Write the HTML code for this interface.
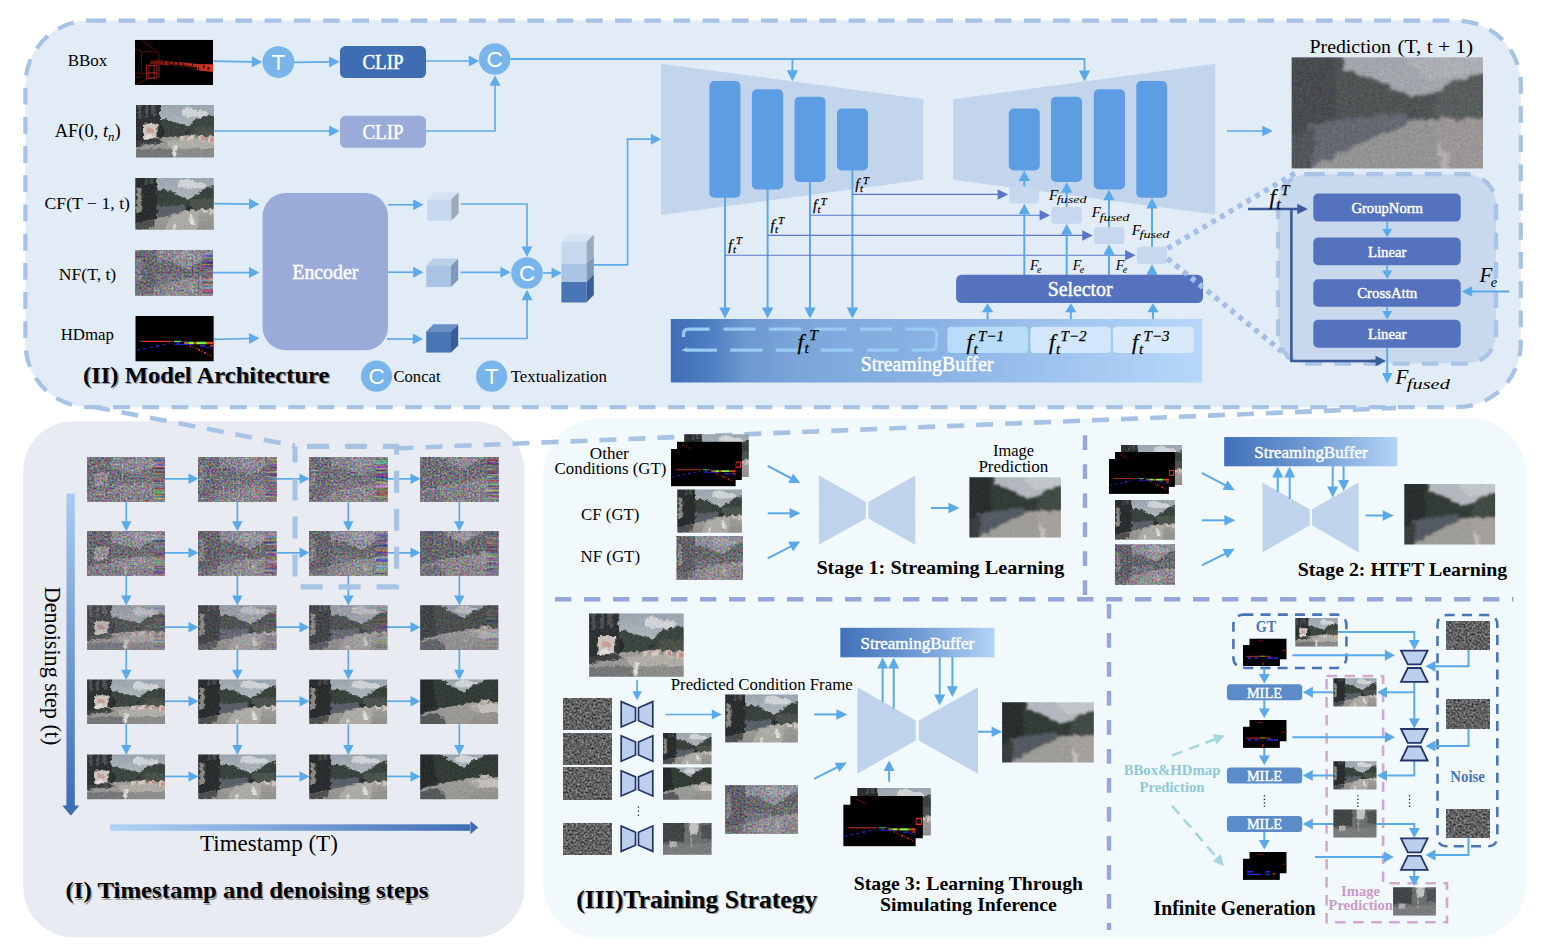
<!DOCTYPE html>
<html><head><meta charset="utf-8"><title>Figure</title>
<style>html,body{margin:0;padding:0;background:#fff}svg{display:block}text{white-space:pre}</style></head>
<body>
<svg width="1551" height="951" viewBox="0 0 1551 951">

<defs>
  <linearGradient id="gbuf" x1="0" x2="1" y1="0" y2="0">
    <stop offset="0" stop-color="#3f6eb6"/><stop offset="0.06" stop-color="#4a7abf"/><stop offset="0.14" stop-color="#6b98d0"/><stop offset="0.23" stop-color="#7ba5d9"/><stop offset="0.52" stop-color="#8cb4e6"/><stop offset="0.8" stop-color="#a6c9f2"/><stop offset="1" stop-color="#b7d7f9"/>
  </linearGradient>
  <linearGradient id="gbuf2" x1="0" x2="1" y1="0" y2="0">
    <stop offset="0" stop-color="#4171b8"/><stop offset="0.5" stop-color="#6f9ad3"/><stop offset="1" stop-color="#b4d4f7"/>
  </linearGradient>
  <linearGradient id="gden" x1="0" x2="0" y1="0" y2="1">
    <stop offset="0" stop-color="#a9cbf3"/><stop offset="1" stop-color="#3f6eb6"/>
  </linearGradient>
  <linearGradient id="gts" x1="0" x2="1" y1="0" y2="0">
    <stop offset="0" stop-color="#b3d4f8"/><stop offset="1" stop-color="#3f6eb6"/>
  </linearGradient>
  <linearGradient id="gsky" x1="0" x2="0" y1="0" y2="1">
    <stop offset="0" stop-color="#9aa6b2"/><stop offset="1" stop-color="#c9cdd0"/>
  </linearGradient>
  <linearGradient id="groad" x1="0" x2="0" y1="0" y2="1">
    <stop offset="0" stop-color="#a9a7a1"/><stop offset="1" stop-color="#8d8c8a"/>
  </linearGradient>
  <filter id="blur0" x="-10%" y="-10%" width="120%" height="120%" color-interpolation-filters="sRGB">
    <feTurbulence type="fractalNoise" baseFrequency="0.22" numOctaves="3" seed="4" result="t"/>
    <feDisplacementMap in="SourceGraphic" in2="t" scale="5" xChannelSelector="R" yChannelSelector="G" result="d"/>
    <feGaussianBlur in="d" stdDeviation="0.55"/>
  </filter>
  <filter id="blur1" x="-10%" y="-10%" width="120%" height="120%" color-interpolation-filters="sRGB">
    <feTurbulence type="fractalNoise" baseFrequency="0.16" numOctaves="3" seed="8" result="t"/>
    <feDisplacementMap in="SourceGraphic" in2="t" scale="6" xChannelSelector="R" yChannelSelector="G" result="d"/>
    <feGaussianBlur in="d" stdDeviation="0.9"/>
  </filter>
  <filter id="blur2" x="-10%" y="-10%" width="120%" height="120%"><feGaussianBlur stdDeviation="1.5"/></filter>
  <filter id="cnoise" x="0" y="0" width="100%" height="100%" color-interpolation-filters="sRGB">
    <feTurbulence type="fractalNoise" baseFrequency="0.5" numOctaves="2" seed="3"/>
    <feColorMatrix type="matrix" values="1.1 0 0 0 -0.04  0 1.1 0 0 -0.06  0 0 1.1 0 -0.015  0 0 0 0 1"/>
  </filter>
  <filter id="cnoise2" x="0" y="0" width="100%" height="100%" color-interpolation-filters="sRGB">
    <feTurbulence type="fractalNoise" baseFrequency="0.52" numOctaves="2" seed="11"/>
    <feColorMatrix type="matrix" values="1.1 0 0 0 -0.04  0 1.1 0 0 -0.06  0 0 1.1 0 -0.015  0 0 0 0 1"/>
  </filter>
  <filter id="streak" x="0" y="0" width="100%" height="100%" color-interpolation-filters="sRGB">
    <feTurbulence type="fractalNoise" baseFrequency="0.03 0.5" numOctaves="2" seed="5"/>
    <feColorMatrix type="matrix" values="2.4 0 0 0 -0.75  0 2.4 0 0 -0.85  0 0 2.4 0 -0.7  0 0 0 0 1"/>
  </filter>
  <filter id="grain" x="0" y="0" width="100%" height="100%" color-interpolation-filters="sRGB">
    <feTurbulence type="fractalNoise" baseFrequency="0.5" numOctaves="2" seed="9"/>
    <feColorMatrix type="matrix" values="1.3 0 0 0 -0.25  1.3 0 0 0 -0.25  1.3 0 0 0 -0.25  0 0 0 0 1"/>
  </filter>
  <filter id="gnoisef" x="0" y="0" width="100%" height="100%" color-interpolation-filters="sRGB">
    <feTurbulence type="fractalNoise" baseFrequency="0.5" numOctaves="2" seed="7"/>
    <feColorMatrix type="matrix" values="0.78 0 0 0 -0.01  0.78 0 0 0 -0.01  0.78 0 0 0 -0.01  0 0 0 0 1"/>
  </filter>

  <!-- road photo with billboard (AF) -->
  <symbol id="roadA" viewBox="0 0 78 52" preserveAspectRatio="none">
    <g filter="url(#blur0)">
      <rect x="-6" y="-6" width="90" height="44" fill="url(#gsky)"/>
      <path d="M46 4 q5 -4 11 0 q4 3 9 1 q4 1 6 3 l-2 3 q-12 3 -24 0z" fill="#e3e6e8" opacity=".85"/>
      <path d="M22 16 q3 -3 6 -1 q3 -2 6 1 q4 -1 7 2 q5 2 8 2 q4 0 7 -2 q3 -4 7 -4 q3 -4 7 -3 q3 -2 8 -1 L84 32 L22 34Z" fill="#39433c"/>
      <path d="M58 22 q8 -2 12 0 l14 1 l0 8 l-26 0z" fill="#4a5148"/>
      <path d="M-6 -6 L24 -6 L24 36 L-6 38Z" fill="#2a2e2f"/>
      <path d="M2 -2 l3 0 l0 16 l-3 0z M9 -2 l3 0 l0 15 l-3 0z M16 -2 l3 0 l0 14 l-3 0z" fill="#4b5052"/>
      <rect x="24" y="20" width="4" height="16" fill="#262a2b"/>
      <rect x="7" y="18.5" width="14.5" height="15" fill="#d6cec8"/>
      <rect x="11" y="23" width="7" height="4.5" fill="#d3a49a"/>
      <rect x="9" y="30" width="11" height="2.5" fill="#efe9e4"/>
      <path d="M-6 40 L24 33 L50 30 L84 31 L84 60 L-6 60Z" fill="url(#groad)"/>
      <path d="M-6 36 L24 34 L28 37 L-6 42Z" fill="#3a3f3d"/>
      <path d="M44 31 l5 0 l0 4 l-5 1z M52 31 l6 0 l0 4 l-6 0z M62 31 l7 0 l0 5 l-7 0z M72 32 l8 0 l0 6 l-8 -1z" fill="#e0cfc8"/>
      <path d="M46 32 l3 0 l0 2 l-3 0z M64 32 l4 0 l0 3 l-4 0z M74 33 l4 0 l0 3 l-4 0z" fill="#d78f80"/>
      <path d="M30 36 L60 34 L84 38 L84 44 L34 43Z" fill="#bdbab3" opacity=".8"/>
      <path d="M-6 44 L36 43.5 L36 60 L-6 60Z" fill="#77787a"/>
      <path d="M36 44 L84 44 L84 60 L36 60Z" fill="#8f8f8d"/>
      <path d="M38 40 l3 0 l-1 12 l-4 0z" fill="#e8e6e0"/>
      <rect x="49" y="26" width="3.5" height="3" fill="#2b2f30"/>
    </g>
    <rect width="78" height="52" filter="url(#grain)" opacity=".09"/>
  </symbol>
  <!-- road photo (CF) -->
  <symbol id="roadB" viewBox="0 0 78 52" preserveAspectRatio="none">
    <g filter="url(#blur0)">
      <rect x="-6" y="-6" width="90" height="44" fill="url(#gsky)"/>
      <path d="M44 3 q6 -4 13 0 q5 3 10 1 l4 5 q-14 4 -28 0z" fill="#e3e6e8" opacity=".85"/>
      <path d="M20 13 q3 -3 6 -1 q3 -1 5 1 q3 -2 6 1 q3 0 4 3 q4 1 7 3 q4 1 7 0 q3 -3 6 -3 q2 -4 6 -5 q3 -4 6 -3 l5 -1 L84 30 L20 36Z" fill="#353f39"/>
      <path d="M54 22 q10 -2 30 0 l0 8 l-30 2z" fill="#49524a"/>
      <path d="M-6 -6 L21 -6 L22 44 L-6 46Z" fill="#25292a"/>
      <path d="M1 10 l5 0 l0 24 l-5 1z" fill="#8f8c88"/>
      <path d="M9 -2 l3 0 l0 9 l-3 0z M15 -2 l3 0 l0 8 l-3 0z" fill="#43484a"/>
      <path d="M22 28 L50 27 L50 36 L22 42Z" fill="#5a606b"/>
      <path d="M-6 47 L22 41 L50 33 L84 31 L84 60 L-6 60Z" fill="url(#groad)"/>
      <path d="M34 40 L52 33 L64 33 L60 60 L26 60Z" fill="#b7b5af" opacity=".85"/>
      <path d="M66 31 l6 0 l0 4 l-6 0z M74 32 l6 0 l0 4 l-6 0z" fill="#d9cbc4"/>
      <path d="M53 37 l3 0 l3 9 l-4 0z" fill="#eceae4"/>
      <path d="M38 46 l3 0 l-1 8 l-4 0z" fill="#dddbd5"/>
      <rect x="52" y="28.5" width="4.5" height="3.5" fill="#23272a"/>
      <path d="M-6 46 L20 42 L18 50 L-6 52Z" fill="#4b4f4e"/>
    </g>
    <rect width="78" height="52" filter="url(#grain)" opacity=".09"/>
  </symbol>
  <!-- road photo curve (col 4) -->
  <symbol id="roadC" viewBox="0 0 78 52" preserveAspectRatio="none">
    <g filter="url(#blur0)">
      <rect x="-6" y="-6" width="90" height="44" fill="url(#gsky)"/>
      <path d="M36 2 q6 -3 12 0 q5 2 9 1 l2 5 q-12 3 -24 0z" fill="#e3e6e8" opacity=".85"/>
      <path d="M-6 -6 L16 -6 q4 4 6 8 q4 0 6 4 q4 2 8 6 q4 2 8 2 q4 -2 8 -6 q4 -4 8 -4 q4 -4 8 -4 l12 -2 L84 26 L58 30 L-6 42 Z" fill="#2f3933"/>
      <path d="M-6 -6 L12 -6 L16 32 L-6 42Z" fill="#222627"/>
      <path d="M-6 43 L24 33 L52 27 L84 26 L84 60 L-6 60Z" fill="url(#groad)"/>
      <path d="M46 31 L72 28 L84 31 L84 38 L54 38Z" fill="#d6d0ca" opacity=".85"/>
      <path d="M20 40 L50 30 L60 34 L44 60 L10 60Z" fill="#a09f9b" opacity=".7"/>
      <path d="M-6 43 L18 39 L32 60 L-6 60Z" fill="#55585a"/>
      <path d="M60 24 l8 -1 l0 4 l-8 1z" fill="#c9bdb6"/>
    </g>
    <rect width="78" height="52" filter="url(#grain)" opacity=".09"/>
  </symbol>
  <!-- prediction (dark blurry) -->
  <symbol id="pred" viewBox="0 0 100 60" preserveAspectRatio="none">
    <g filter="url(#blur1)">
      <rect x="-8" y="-8" width="116" height="76" fill="#b9bfc4"/>
      <path d="M50 -8 L108 -8 L108 6 L72 13 Z" fill="#c9ced1"/>
      <path d="M25 -8 L27 7 Q36 9 45 13 Q54 18 62 21 Q70 21 78 18 Q84 12 92 11 L108 9 L108 35 L-8 38 L-8 -8 Z" fill="#303834"/>
      <path d="M76 20 Q84 13 92 12 L108 10 L108 33 L74 33Z" fill="#404943"/>
      <path d="M-8 -8 L22 -8 L24 40 L-8 44 Z" fill="#252a2a"/>
      <path d="M8 36 L58 30 L64 36 L28 53 L8 60 Z" fill="#535a62"/>
      <path d="M6 70 L14 58 L30 50 Q48 40 64 35 L70 33 L108 33 L108 70 Z" fill="#a2a19c"/>
      <path d="M72 33 L108 33 L108 70 L84 70 Z" fill="#b0a6a4" opacity=".7"/>
      <path d="M76 46 l2.2 0 l7 22 l-3.2 0z" fill="#d6d4ce"/>
      <path d="M-8 42 L12 39 L10 70 L-8 70Z" fill="#363c3c"/>
      <rect x="60" y="30" width="5" height="4" fill="#2a2e2e"/>
    </g>
    <rect width="100" height="60" filter="url(#grain)" opacity=".07"/>
  </symbol>
  <!-- grayscale blurry street -->
  <symbol id="grayst" viewBox="0 0 78 45" preserveAspectRatio="none">
    <g filter="url(#blur1)">
      <rect x="-6" y="-6" width="90" height="60" fill="#6e7272"/>
      <path d="M-6 -6 L34 -6 L34 26 L-6 30Z" fill="#3d4141"/>
      <path d="M40 -6 L58 -6 L56 16 L44 18Z" fill="#d2d4d4"/>
      <path d="M60 2 L84 0 L84 24 L62 22Z" fill="#4c5050"/>
      <path d="M-6 32 L84 28 L84 52 L-6 52Z" fill="#7e8181"/>
      <rect x="10" y="26" width="12" height="8" fill="#b9bcbc"/>
      <rect x="44" y="20" width="3" height="14" fill="#9c9f9f"/>
    </g>
    <rect width="78" height="45" filter="url(#grain)" opacity=".14"/>
  </symbol>
  <!-- hdmap -->
  <symbol id="hdmap" viewBox="0 0 78 45" preserveAspectRatio="none">
    <rect width="78" height="45" fill="#000"/>
    <path d="M3 25.1 L6 25.1" stroke="#1a1a70" stroke-width="1"/>
    <path d="M6 25.1 L34.6 25.1" stroke="#e23a1c" stroke-width="1"/>
    <path d="M34.6 25.1 L37.5 25.1" stroke="#8a2a70" stroke-width="1"/>
    <path d="M38.3 25.1 L46 25.1" stroke="#66e83a" stroke-width="1"/>
    <path d="M46 25.3 L53 25.3" stroke="#2a2ad0" stroke-width="0.8"/>
    <g stroke-width="2.3">
      <path d="M48.4 26.7 L50.4 26.7" stroke="#ee3a1e"/><path d="M50.4 26.7 L53.3 26.7" stroke="#5a9a3a"/>
      <path d="M53.3 26.7 L58.2 26.7" stroke="#86f53c"/><path d="M58.4 26.7 L60.2 26.7" stroke="#ee3a1e"/>
      <path d="M60.5 26.7 L70.2 26.7" stroke="#86f53c"/><path d="M70.2 26.7 L72.2 26.7" stroke="#8a8a30"/>
      <path d="M72.2 26.7 L78 26.7" stroke="#ee3a1e"/>
    </g>
    <g fill="#2b2bf0">
      <rect x="41" y="25.8" width="2.6" height="2"/><rect x="33.6" y="25.6" width="1" height="1.8"/>
      <rect x="38.6" y="27.8" width="19" height="0.8"/>
      <rect x="26.8" y="27.7" width="2.9" height="0.8"/><rect x="20.8" y="28.7" width="2.6" height="1.7"/>
      <rect x="14.2" y="30.6" width="3.2" height="0.9"/><rect x="7.9" y="31.6" width="2.8" height="0.9"/>
      <rect x="2.7" y="32.7" width="1.4" height="1.8"/>
      <rect x="64.2" y="29" width="5.8" height="1.4"/><rect x="70.2" y="30.8" width="4.6" height="0.7"/><rect x="75.4" y="31.5" width="2.6" height="0.8"/>
    </g>
    <g fill="#d8341c">
      <rect x="74.3" y="28.7" width="3.4" height="1.7"/>
      <rect x="54.2" y="28.6" width="1.1" height="1.9"/><rect x="57.3" y="30.5" width="1.1" height="1"/><rect x="60.2" y="31.5" width="1.1" height="1"/>
      <rect x="62.3" y="32.5" width="2" height="1.9"/><rect x="65.5" y="34.4" width="1.6" height="1"/><rect x="68.3" y="35.5" width="2" height="1.8"/>
      <rect x="71.5" y="37.3" width="1.2" height="1"/><rect x="74" y="38.4" width="1.1" height="1"/><rect x="77.2" y="39.4" width="0.8" height="1.6"/>
    </g>
  </symbol>
  <!-- bbox -->
  <linearGradient id="gbb" x1="0" x2="1" y1="0" y2="0"><stop offset="0" stop-color="#5a100a"/><stop offset="0.45" stop-color="#a3261a"/><stop offset="1" stop-color="#d63624"/></linearGradient>
  <symbol id="bbox" viewBox="0 0 78 45" preserveAspectRatio="none">
    <rect width="78" height="45" fill="#000"/>
    <g stroke="#6e150e" fill="none" stroke-width="0.8">
      <path d="M6.6 12 L23.8 12 L23.8 20 M6.6 12 L6.6 32 M7.5 0.6 L21.2 10.8 M0 9 L6.6 11.5 M0 33.2 L22 33.2 M0 38 L6 36.5 M1 44.5 L14 38"/>
    </g>
    <g stroke="#a3261a" fill="none" stroke-width="0.9">
      <rect x="11.5" y="25.6" width="10.4" height="12.6"/><rect x="14" y="25.6" width="5" height="12.6"/>
      <path d="M11.5 33 L22 33 M15 21.5 L24 21.5 L24 38"/>
    </g>
    <path d="M15 21 L24 20.2 L34 21.6 L50 22.6 L62 24 L78 24.4 L78 32 L62 30.2 L50 27.4 L34 25.8 L24 24.6 L15 24.4Z" fill="url(#gbb)"/>
    <g fill="#000" opacity=".75">
      <rect x="28" y="21" width="0.9" height="4.5"/><rect x="33.5" y="21.5" width="0.9" height="4.5"/><rect x="38" y="22" width="1.2" height="5"/><rect x="42.5" y="22" width="1.6" height="5.2"/>
      <rect x="47.5" y="22.5" width="1" height="5"/><rect x="52" y="26" width="2.6" height="1.8"/><rect x="57" y="23.4" width="0.9" height="2.6"/><rect x="63" y="27.5" width="0.9" height="2.6"/>
      <rect x="68" y="25.6" width="1.6" height="3"/><rect x="72.4" y="27" width="2" height="3"/>
      <path d="M34 24.4 L50 25.6 L62 27.4 L62 30.4 L50 27.6 L34 26Z"/>
    </g>
  </symbol>
  <!-- plain black with little red (middle layer of stacks) -->
  <symbol id="blk" viewBox="0 0 78 45" preserveAspectRatio="none">
    <rect width="78" height="45" fill="#000"/>
    <path d="M6 3 L18 9" stroke="#a81c14" stroke-width="0.7"/>
    <rect x="70.5" y="24" width="6" height="6" fill="none" stroke="#e03024" stroke-width="1.4"/>
  </symbol>
  <!-- small dark cond maps for infinite generation -->
  <symbol id="cmapA" viewBox="0 0 37 21" preserveAspectRatio="none">
    <rect width="37" height="21" fill="#000"/>
    <path d="M3 11.3 L28 11.3" stroke="#d92a1c" stroke-width="0.9"/>
    <path d="M17 11.3 L22 11.3" stroke="#2fb23a" stroke-width="0.9"/>
    <path d="M5 13 l3 0 M12 13 l3 0 M24 13 l6 0 M31 13.3 l4 0" stroke="#2430ee" stroke-width="1.5"/>
    <path d="M20 17.5 l0 2.5" stroke="#d92a1c" stroke-width="1.2"/>
  </symbol>
  <symbol id="cmapB" viewBox="0 0 37 21" preserveAspectRatio="none">
    <rect width="37" height="21" fill="#000"/>
    <path d="M8 2.5 L14 2.5 M32 12 L37 12" stroke="#8a1710" stroke-width="0.8"/>
  </symbol>
  <symbol id="cmapC" viewBox="0 0 37 21" preserveAspectRatio="none">
    <rect width="37" height="21" fill="#000"/>
    <path d="M4 13 l6 0 M23 13 l4 0 M4 15.5 l14 0 M22 15.5 l5 0" stroke="#2430ee" stroke-width="1.3"/>
    <path d="M30 15 l2 0" stroke="#e8261a" stroke-width="1.6"/>
  </symbol>
</defs>
<rect width="1551" height="951" fill="#fff"/>
<rect x="23.2" y="421.2" width="501.3" height="516" rx="50" fill="#e8ecf2" />
<rect x="543.2" y="418.8" width="983.4" height="519.4" rx="56" fill="#f2f9fc" />
<rect x="25.4" y="20.6" width="1495.4" height="386.6" rx="64" fill="#e2ecf7" stroke="#a6c2e5" stroke-width="4.2" stroke-dasharray="16.8 12.4"/>
<path d="M93 406.8 L295 445.8" stroke="#a6c2e5" stroke-width="4.6" stroke-dasharray="17 12" fill="none"/>
<path d="M396.6 448.4 L1396 408" stroke="#a6c2e5" stroke-width="4.6" stroke-dasharray="17 12" fill="none"/>
<text x="87.5" y="66" font-family="Liberation Serif" font-size="17" font-weight="normal" fill="#000" text-anchor="middle" textLength="39.7" lengthAdjust="spacingAndGlyphs"  >BBox</text>
<text x="54.7" y="137" font-family="Liberation Serif" font-size="18" fill="#000" textLength="66" lengthAdjust="spacingAndGlyphs">AF(0, <tspan font-style="italic">t</tspan><tspan font-style="italic" font-size="12.5" dy="3.5">n</tspan><tspan dy="-3.5">)</tspan></text>
<text x="44.5" y="208.7" font-family="Liberation Serif" font-size="17.5" font-weight="normal" fill="#000" text-anchor="start" textLength="85.5" lengthAdjust="spacingAndGlyphs"  >CF(T − 1, t)</text>
<text x="58.8" y="279.5" font-family="Liberation Serif" font-size="17.5" font-weight="normal" fill="#000" text-anchor="start" textLength="57.4" lengthAdjust="spacingAndGlyphs"  >NF(T, t)</text>
<text x="60.7" y="340.4" font-family="Liberation Serif" font-size="17" font-weight="normal" fill="#000" text-anchor="start" textLength="53.3" lengthAdjust="spacingAndGlyphs"  >HDmap</text>
<use href="#bbox" x="135" y="39.8" width="78" height="45.2" />
<use href="#roadA" x="136" y="105" width="78" height="52.4" />
<use href="#roadB" x="135.3" y="178" width="78.5" height="51.7" />
<use href="#roadB" x="135.3" y="250.2" width="77.7" height="45.4" />
<rect x="135.3" y="250.2" width="77.7" height="45.4" filter="url(#cnoise)" opacity="0.72"/>
<rect x="202.9" y="252.2" width="10.1" height="41.4" filter="url(#streak)" opacity="0.4"/>
<use href="#hdmap" x="135.3" y="316" width="78.5" height="45.5" />
<path d="M213 61.2 L252.8 61.85" fill="none" stroke="#5fabe9" stroke-width="1.7"/>
<polygon points="262.3,62 251.71,67.33 251.89,56.33" fill="#5fabe9"/>
<path d="M294 62.4 L330.1 61.92" fill="none" stroke="#5fabe9" stroke-width="1.7"/>
<polygon points="339.6,61.8 329.17,67.44 329.03,56.44" fill="#5fabe9"/>
<path d="M426 61 L469.8 61" fill="none" stroke="#5fabe9" stroke-width="1.7"/>
<polygon points="479.3,61 468.8,66.5 468.8,55.5" fill="#5fabe9"/>
<path d="M214 131 L330.1 131" fill="none" stroke="#5fabe9" stroke-width="1.7"/>
<polygon points="339.6,131 329.1,136.5 329.1,125.5" fill="#5fabe9"/>
<path d="M426 131 L495 131 L495 84.7" fill="none" stroke="#5fabe9" stroke-width="1.7"/>
<polygon points="495,75.2 500.5,85.7 489.5,85.7" fill="#5fabe9"/>
<circle cx="278.4" cy="62.1" r="15.9" fill="#79b4ea"/>
<text x="278.4" y="70.2" font-family="Liberation Sans" font-size="22.5" font-weight="normal" fill="#fff" text-anchor="middle"  >T</text>
<rect x="340" y="46" width="86" height="32" rx="5.5" fill="#3e6db4" />
<text x="383" y="69.3" font-family="Liberation Serif" font-size="20" font-weight="normal" fill="#fff" text-anchor="middle" textLength="41" lengthAdjust="spacingAndGlyphs"   stroke="#fff" stroke-width="0.45">CLIP</text>
<rect x="340" y="115.8" width="86" height="32" rx="5.5" fill="#9aabda" />
<text x="383" y="139.2" font-family="Liberation Serif" font-size="20" font-weight="normal" fill="#fff" text-anchor="middle" textLength="41" lengthAdjust="spacingAndGlyphs"   stroke="#fff" stroke-width="0.45">CLIP</text>
<circle cx="494.7" cy="59" r="15.8" fill="#79b4ea"/>
<text x="494.7" y="66.8" font-family="Liberation Sans" font-size="22.5" font-weight="normal" fill="#fff" text-anchor="middle"  >C</text>
<path d="M213.8 203.6 L250 204.08" fill="none" stroke="#5fabe9" stroke-width="1.7"/>
<polygon points="259.5,204.2 248.93,209.56 249.07,198.56" fill="#5fabe9"/>
<path d="M213 272.6 L250 272.6" fill="none" stroke="#5fabe9" stroke-width="1.7"/>
<polygon points="259.5,272.6 249,278.1 249,267.1" fill="#5fabe9"/>
<path d="M213.8 339.3 L250 338.51" fill="none" stroke="#5fabe9" stroke-width="1.7"/>
<polygon points="259.5,338.3 249.12,344.03 248.88,333.03" fill="#5fabe9"/>
<rect x="262.6" y="193" width="125.4" height="157.3" rx="23" fill="#9aabda" />
<text x="325.3" y="278.6" font-family="Liberation Serif" font-size="20" font-weight="normal" fill="#fff" text-anchor="middle" textLength="66" lengthAdjust="spacingAndGlyphs"   stroke="#fff" stroke-width="0.45">Encoder</text>
<path d="M388 204.8 L414.1 204.8" fill="none" stroke="#5fabe9" stroke-width="1.7"/>
<polygon points="423.6,204.8 413.1,210.3 413.1,199.3" fill="#5fabe9"/>
<path d="M388 272.2 L414.1 272.2" fill="none" stroke="#5fabe9" stroke-width="1.7"/>
<polygon points="423.6,272.2 413.1,277.7 413.1,266.7" fill="#5fabe9"/>
<path d="M387 339 L413.8 339" fill="none" stroke="#5fabe9" stroke-width="1.7"/>
<polygon points="423.3,339 412.8,344.5 412.8,333.5" fill="#5fabe9"/>
<polygon points="427.2,199.6 434.6,192.2 458.6,192.2 451.2,199.6" fill="#d5e2f2" />
<polygon points="451.2,199.6 458.6,192.2 458.6,213.4 451.2,220.8" fill="#9daabc" />
<rect x="427.2" y="199.6" width="24" height="21.2" rx="0" fill="#c6d8ee" />
<polygon points="426.2,265.8 433.4,258.6 458.2,258.6 451,265.8" fill="#bacfea" />
<polygon points="451,265.8 458.2,258.6 458.2,279.8 451,287" fill="#8199b8" />
<rect x="426.2" y="265.8" width="24.8" height="21.2" rx="0" fill="#a9c3e5" />
<polygon points="426.2,331.4 433.4,324.2 458.2,324.2 451,331.4" fill="#6a8fc4" />
<polygon points="451,331.4 458.2,324.2 458.2,345.4 451,352.6" fill="#3a5d96" />
<rect x="426.2" y="331.4" width="24.8" height="21.2" rx="0" fill="#4a76b5" />
<path d="M461 204 L527 204 L527 247.4" fill="none" stroke="#5fabe9" stroke-width="1.7"/>
<polygon points="527,256.9 521.5,246.4 532.5,246.4" fill="#5fabe9"/>
<path d="M460.5 272.3 L501.3 272.3" fill="none" stroke="#5fabe9" stroke-width="1.7"/>
<polygon points="510.8,272.3 500.3,277.8 500.3,266.8" fill="#5fabe9"/>
<path d="M460 338.5 L527 338.5 L527 299.3" fill="none" stroke="#5fabe9" stroke-width="1.7"/>
<polygon points="527,289.8 532.5,300.3 521.5,300.3" fill="#5fabe9"/>
<path d="M543 273 L552.5 273" fill="none" stroke="#5fabe9" stroke-width="1.7"/>
<polygon points="562,273 551.5,278.5 551.5,267.5" fill="#5fabe9"/>
<circle cx="527" cy="273" r="15.8" fill="#79b4ea"/>
<text x="527" y="280.8" font-family="Liberation Sans" font-size="22.5" font-weight="normal" fill="#fff" text-anchor="middle"  >C</text>
<polygon points="561.4,242 568.8,234.6 593.8,234.6 586.4,242" fill="#d5e2f2" />
<polygon points="586.4,242 593.8,234.6 593.8,256.2 586.4,263.6" fill="#9daabc" />
<polygon points="586.4,263.6 593.8,256.2 593.8,274.6 586.4,282" fill="#8199b8" />
<polygon points="586.4,282 593.8,274.6 593.8,295.1 586.4,302.5" fill="#3a5d96" />
<rect x="561.4" y="242" width="25" height="21.6" rx="0" fill="#c6d8ee" />
<rect x="561.4" y="263.6" width="25" height="18.4" rx="0" fill="#a9c3e5" />
<rect x="561.4" y="282" width="25" height="20.5" rx="0" fill="#4a76b5" />
<path d="M594 264.8 L627.6 264.8 L627.6 139.2 L651.8 139.2" fill="none" stroke="#5fabe9" stroke-width="1.7"/>
<polygon points="661.3,139.2 650.8,144.7 650.8,133.7" fill="#5fabe9"/>
<circle cx="376.5" cy="376.2" r="15.6" fill="#79b4ea"/>
<text x="376.5" y="384" font-family="Liberation Sans" font-size="22.5" font-weight="normal" fill="#fff" text-anchor="middle"  >C</text>
<text x="393.5" y="382.2" font-family="Liberation Serif" font-size="17" font-weight="normal" fill="#000" text-anchor="start" textLength="47" lengthAdjust="spacingAndGlyphs"  >Concat</text>
<circle cx="491.6" cy="376.2" r="15.6" fill="#79b4ea"/>
<text x="491.6" y="384.2" font-family="Liberation Sans" font-size="22.5" font-weight="normal" fill="#fff" text-anchor="middle"  >T</text>
<text x="510.7" y="382.2" font-family="Liberation Serif" font-size="17" font-weight="normal" fill="#000" text-anchor="start" textLength="96.3" lengthAdjust="spacingAndGlyphs"  >Textualization</text>
<text x="84.3" y="384.1" font-family="Liberation Serif" font-size="24" font-weight="bold" fill="#9c9c9c" text-anchor="start" textLength="246.5" lengthAdjust="spacingAndGlyphs"  >(II) Model Architecture</text>
<text x="83" y="382.8" font-family="Liberation Serif" font-size="24" font-weight="bold" fill="#000" text-anchor="start" textLength="246.5" lengthAdjust="spacingAndGlyphs"  >(II) Model Architecture</text>
<polygon points="661,63.8 923.4,98.9 923.4,179.8 661,215" fill="#c3d5ec" />
<polygon points="953.1,99.3 1215.3,63.8 1215.3,214.5 953.1,179.8" fill="#c3d5ec" />
<path d="M510.5 59 L1084.5 59" stroke="#5aaae9" stroke-width="1.8" fill="none"/>
<path d="M792.4 59 L792.4 71.2" fill="none" stroke="#5aaae9" stroke-width="1.8"/>
<polygon points="792.4,81.2 786.7,70.2 798.1,70.2" fill="#5aaae9"/>
<path d="M1084.5 58.2 L1084.5 71.4" fill="none" stroke="#5aaae9" stroke-width="1.8"/>
<polygon points="1084.5,81.4 1078.8,70.4 1090.2,70.4" fill="#5aaae9"/>
<path d="M725 195.7 L725 308.6" fill="none" stroke="#5aaae9" stroke-width="2"/>
<polygon points="725,318.6 719.3,307.6 730.7,307.6" fill="#5aaae9"/>
<path d="M767.6 187.5 L767.6 308.6" fill="none" stroke="#5aaae9" stroke-width="2"/>
<polygon points="767.6,318.6 761.9,307.6 773.3,307.6" fill="#5aaae9"/>
<path d="M810 180 L810 308.6" fill="none" stroke="#5aaae9" stroke-width="2"/>
<polygon points="810,318.6 804.3,307.6 815.7,307.6" fill="#5aaae9"/>
<path d="M852.4 168.4 L852.4 308.6" fill="none" stroke="#5aaae9" stroke-width="2"/>
<polygon points="852.4,318.6 846.7,307.6 858.1,307.6" fill="#5aaae9"/>
<rect x="709.4" y="81" width="31.1" height="116.7" rx="5" fill="#5d9de4" />
<rect x="751.9" y="89.2" width="31.3" height="100.3" rx="5" fill="#5d9de4" />
<rect x="794.5" y="96.8" width="31" height="85.2" rx="5" fill="#5d9de4" />
<rect x="837" y="108.5" width="31" height="61.9" rx="5" fill="#5d9de4" />
<rect x="1008.8" y="108.5" width="31" height="61.9" rx="5" fill="#5d9de4" />
<rect x="1051" y="96.8" width="31" height="85.2" rx="5" fill="#5d9de4" />
<rect x="1093.8" y="89.2" width="31.2" height="100.3" rx="5" fill="#5d9de4" />
<rect x="1136.3" y="81" width="30.9" height="116.7" rx="5" fill="#5d9de4" />
<path d="M852.4 194.4 L998.6 194.4" fill="none" stroke="#5b76c8" stroke-width="1.1"/>
<polygon points="1008.1,194.4 997.6,199.65 997.6,189.15" fill="#5b76c8"/>
<path d="M810 215.3 L1040.6 215.3" fill="none" stroke="#5b76c8" stroke-width="1.1"/>
<polygon points="1050.1,215.3 1039.6,220.55 1039.6,210.05" fill="#5b76c8"/>
<path d="M767.6 235.4 L1083.3 235.4" fill="none" stroke="#5b76c8" stroke-width="1.1"/>
<polygon points="1092.8,235.4 1082.3,240.65 1082.3,230.15" fill="#5b76c8"/>
<path d="M725 255.2 L1126.1 255.2" fill="none" stroke="#5b76c8" stroke-width="1.1"/>
<polygon points="1135.6,255.2 1125.1,260.45 1125.1,249.95" fill="#5b76c8"/>
<path d="M1024.3 275 L1024.3 213.3" fill="none" stroke="#5aaae9" stroke-width="2"/>
<polygon points="1024.3,203.8 1030,214.3 1018.6,214.3" fill="#5aaae9"/>
<path d="M1024.3 187.2 L1024.3 180.1" fill="none" stroke="#5aaae9" stroke-width="2"/>
<polygon points="1024.3,170.6 1030,181.1 1018.6,181.1" fill="#5aaae9"/>
<path d="M1066.7 275 L1066.7 233.6" fill="none" stroke="#5aaae9" stroke-width="2"/>
<polygon points="1066.7,224.1 1072.4,234.6 1061,234.6" fill="#5aaae9"/>
<path d="M1066.7 207.9 L1066.7 191.7" fill="none" stroke="#5aaae9" stroke-width="2"/>
<polygon points="1066.7,182.2 1072.4,192.7 1061,192.7" fill="#5aaae9"/>
<path d="M1109 275 L1109 253.7" fill="none" stroke="#5aaae9" stroke-width="2"/>
<polygon points="1109,244.2 1114.7,254.7 1103.3,254.7" fill="#5aaae9"/>
<path d="M1109 228 L1109 199.3" fill="none" stroke="#5aaae9" stroke-width="2"/>
<polygon points="1109,189.8 1114.7,200.3 1103.3,200.3" fill="#5aaae9"/>
<path d="M1152 275 L1152 273.7" fill="none" stroke="#5aaae9" stroke-width="2"/>
<polygon points="1152,264.2 1157.7,274.7 1146.3,274.7" fill="#5aaae9"/>
<path d="M1152 247.7 L1152 207.5" fill="none" stroke="#5aaae9" stroke-width="2"/>
<polygon points="1152,198 1157.7,208.5 1146.3,208.5" fill="#5aaae9"/>
<rect x="1009.3" y="186.2" width="29.7" height="17.3" rx="3.5" fill="#c6d7ee" />
<rect x="1051.3" y="206.9" width="30.7" height="16.9" rx="3.5" fill="#c6d7ee" />
<rect x="1094" y="227" width="30.4" height="16.9" rx="3.5" fill="#c6d7ee" />
<rect x="1136.8" y="246.7" width="30.2" height="17.2" rx="3.5" fill="#c6d7ee" />
<path d="M1227 131 L1263.3 131" fill="none" stroke="#5aaae9" stroke-width="1.7"/>
<polygon points="1272.8,131 1262.3,136.25 1262.3,125.75" fill="#5aaae9"/>
<text x="855.3" y="189.3" font-family="Liberation Serif" font-style="italic" font-size="14.5" fill="#000" stroke="#000" stroke-width="0.25">f<tspan font-size="10.5" dy="2.9" dx="0.58">t</tspan><tspan font-size="10.5" dy="-8.7" dx="0.21">T</tspan></text>
<text x="812.9" y="210.3" font-family="Liberation Serif" font-style="italic" font-size="14.5" fill="#000" stroke="#000" stroke-width="0.25">f<tspan font-size="10.5" dy="2.9" dx="0.58">t</tspan><tspan font-size="10.5" dy="-8.7" dx="0.21">T</tspan></text>
<text x="770.5" y="230.2" font-family="Liberation Serif" font-style="italic" font-size="14.5" fill="#000" stroke="#000" stroke-width="0.25">f<tspan font-size="10.5" dy="2.9" dx="0.58">t</tspan><tspan font-size="10.5" dy="-8.7" dx="0.21">T</tspan></text>
<text x="728.3" y="250" font-family="Liberation Serif" font-style="italic" font-size="14.5" fill="#000" stroke="#000" stroke-width="0.25">f<tspan font-size="10.5" dy="2.9" dx="0.58">t</tspan><tspan font-size="10.5" dy="-8.7" dx="0.21">T</tspan></text>
<text x="1049" y="199.8" font-family="Liberation Serif" font-style="italic" font-size="15" fill="#000">F<tspan font-size="10.5" dy="3.3" dx="-1.5" textLength="30" lengthAdjust="spacingAndGlyphs">fused</tspan></text>
<text x="1091.8" y="217.3" font-family="Liberation Serif" font-style="italic" font-size="15" fill="#000">F<tspan font-size="10.5" dy="3.3" dx="-1.5" textLength="30" lengthAdjust="spacingAndGlyphs">fused</tspan></text>
<text x="1131.8" y="234.6" font-family="Liberation Serif" font-style="italic" font-size="15" fill="#000">F<tspan font-size="10.5" dy="3.3" dx="-1.5" textLength="30" lengthAdjust="spacingAndGlyphs">fused</tspan></text>
<text x="1030" y="269.8" font-family="Liberation Serif" font-style="italic" font-size="14" fill="#000">F<tspan font-size="10" dy="3.08" dx="-1.5">e</tspan></text>
<text x="1072.7" y="269.8" font-family="Liberation Serif" font-style="italic" font-size="14" fill="#000">F<tspan font-size="10" dy="3.08" dx="-1.5">e</tspan></text>
<text x="1115.8" y="269.8" font-family="Liberation Serif" font-style="italic" font-size="14" fill="#000">F<tspan font-size="10" dy="3.08" dx="-1.5">e</tspan></text>
<rect x="956.1" y="274.7" width="246.9" height="28.3" rx="5.5" fill="#5572be" />
<text x="1080.2" y="295.8" font-family="Liberation Serif" font-size="20" font-weight="normal" fill="#fff" text-anchor="middle" textLength="64.8" lengthAdjust="spacingAndGlyphs"   stroke="#fff" stroke-width="0.45">Selector</text>
<path d="M987.6 320 L987.6 311.2" fill="none" stroke="#5aaae9" stroke-width="2"/>
<polygon points="987.6,303.2 993.3,312.2 981.9,312.2" fill="#5aaae9"/>
<path d="M1070.8 320 L1070.8 311.2" fill="none" stroke="#5aaae9" stroke-width="2"/>
<polygon points="1070.8,303.2 1076.5,312.2 1065.1,312.2" fill="#5aaae9"/>
<path d="M1153 320 L1153 311.2" fill="none" stroke="#5aaae9" stroke-width="2"/>
<polygon points="1153,303.2 1158.7,312.2 1147.3,312.2" fill="#5aaae9"/>
<rect x="670.8" y="319" width="531.4" height="63.5" rx="0" fill="url(#gbuf)" />
<path d="M683.5 337 L683.5 334.2 Q683.5 329.2 688.5 329.2 L709.6 329.2 M723.4 329.2 L755.6 329.2 M768.9 329.2 L801.1 329.2 M814.4 329.2 L846.6 329.2 M859.9 329.2 L892.1 329.2 M905.6 329.2 L931.5 329.2 Q936.5 329.2 936.5 335.2 L936.5 343.6 Q936.5 350.2 931.5 350.2 L911.6 350.2 M730.2 350.2 L762.8 350.2 M775.7 350.2 L807.6 350.2 M820.9 350.2 L853.6 350.2 M866.9 350.2 L898.3 350.2 M716.9 350.2 L686 350.2 " fill="none" stroke="#98caf4" stroke-width="3.3"/>
<polygon points="681.2,350.2 687,347.2 687,351.9" fill="#98caf4" />
<rect x="947.4" y="326.8" width="80.6" height="26.3" rx="4" fill="#b9dcfb" />
<rect x="1030.4" y="326.8" width="80.3" height="26.3" rx="4" fill="#d3e7fc" />
<rect x="1113.1" y="326.8" width="80.6" height="26.3" rx="4" fill="#d9eafc" />
<text x="927" y="371.2" font-family="Liberation Serif" font-size="20" font-weight="normal" fill="#fff" text-anchor="middle" textLength="132.5" lengthAdjust="spacingAndGlyphs"   stroke="#fff" stroke-width="0.45">StreamingBuffer</text>
<text x="797.5" y="348.6" font-family="Liberation Serif" font-style="italic" font-size="22" fill="#000" stroke="#000" stroke-width="0.25">f<tspan font-size="15.5" dy="4.4" dx="0.88">t</tspan><tspan font-size="15.5" dy="-13.2" dx="0.31">T</tspan></text>
<text x="966.5" y="349.4" font-family="Liberation Serif" font-style="italic" font-size="22" fill="#000" stroke="#000" stroke-width="0.25">f<tspan font-size="15" dy="4.4" dx="0.88">t</tspan><tspan font-size="15" dy="-13.2" dx="0.3">T−1</tspan></text>
<text x="1049" y="349.4" font-family="Liberation Serif" font-style="italic" font-size="22" fill="#000" stroke="#000" stroke-width="0.25">f<tspan font-size="15" dy="4.4" dx="0.88">t</tspan><tspan font-size="15" dy="-13.2" dx="0.3">T−2</tspan></text>
<text x="1132" y="349.4" font-family="Liberation Serif" font-style="italic" font-size="22" fill="#000" stroke="#000" stroke-width="0.25">f<tspan font-size="15" dy="4.4" dx="0.88">t</tspan><tspan font-size="15" dy="-13.2" dx="0.3">T−3</tspan></text>
<text x="1309.5" y="53" font-family="Liberation Serif" font-size="18" font-weight="normal" fill="#000" text-anchor="start" textLength="81.5" lengthAdjust="spacingAndGlyphs"  >Prediction</text>
<text x="1397.4" y="53" font-family="Liberation Serif" font-size="18" font-weight="normal" fill="#000" text-anchor="start" textLength="75.7" lengthAdjust="spacingAndGlyphs"  >(T, t + 1)</text>
<use href="#pred" x="1291.8" y="57.4" width="191.2" height="110.8" />
<rect x="1291.8" y="57.4" width="191.2" height="110.8" rx="0" fill="#8a8d90" opacity=".22"/>
<rect x="1291.8" y="57.4" width="191.2" height="110.8" filter="url(#cnoise)" opacity=".16"/>
<path d="M1167.5 248.5 L1297 172" stroke="#a4bfe3" stroke-width="5.4" stroke-dasharray="5 5.2" fill="none"/>
<path d="M1167.5 258.5 L1290 358" stroke="#a4bfe3" stroke-width="5.4" stroke-dasharray="5 5.2" fill="none"/>
<rect x="1278" y="174.2" width="218" height="189.4" rx="30" fill="#c8d9ee" stroke="#a9c4e6" stroke-width="4.2" stroke-dasharray="16.8 12.4"/>
<path d="M1291.4 209 L1291.4 361 L1376 361" stroke="#3a5a9c" stroke-width="2.6" fill="none"/>
<path d="M1370 361 L1376.5 361" fill="none" stroke="#3a5a9c" stroke-width="2.6"/>
<polygon points="1386,361 1375.5,366.25 1375.5,355.75" fill="#3a5a9c"/>
<path d="M1248 209 L1298.3 209" fill="none" stroke="#3a5a9c" stroke-width="2.6"/>
<polygon points="1307.8,209 1297.3,214.25 1297.3,203.75" fill="#3a5a9c"/>
<rect x="1313.3" y="193.5" width="147.4" height="28.1" rx="5" fill="#5572be" />
<text x="1387.2" y="212.75" font-family="Liberation Serif" font-size="15" font-weight="normal" fill="#fff" text-anchor="middle" textLength="71.6" lengthAdjust="spacingAndGlyphs"   stroke="#fff" stroke-width="0.45">GroupNorm</text>
<rect x="1313.3" y="237.5" width="147.4" height="27.8" rx="5" fill="#5572be" />
<text x="1387.2" y="256.6" font-family="Liberation Serif" font-size="15" font-weight="normal" fill="#fff" text-anchor="middle" textLength="38.5" lengthAdjust="spacingAndGlyphs"   stroke="#fff" stroke-width="0.45">Linear</text>
<rect x="1313.3" y="279.2" width="147.4" height="27.6" rx="5" fill="#5572be" />
<text x="1387.2" y="298.2" font-family="Liberation Serif" font-size="15" font-weight="normal" fill="#fff" text-anchor="middle" textLength="60" lengthAdjust="spacingAndGlyphs"   stroke="#fff" stroke-width="0.45">CrossAttn</text>
<rect x="1313.3" y="319.8" width="147.4" height="27.9" rx="5" fill="#5572be" />
<text x="1387.2" y="338.95" font-family="Liberation Serif" font-size="15" font-weight="normal" fill="#fff" text-anchor="middle" textLength="38.5" lengthAdjust="spacingAndGlyphs"   stroke="#fff" stroke-width="0.45">Linear</text>
<path d="M1387.2 221.6 L1387.2 229.8" fill="none" stroke="#5aaae9" stroke-width="1.7"/>
<polygon points="1387.2,237.3 1382.2,228.8 1392.2,228.8" fill="#5aaae9"/>
<path d="M1387.2 265.3 L1387.2 271.5" fill="none" stroke="#5aaae9" stroke-width="1.7"/>
<polygon points="1387.2,279 1382.2,270.5 1392.2,270.5" fill="#5aaae9"/>
<path d="M1387.2 306.8 L1387.2 312.1" fill="none" stroke="#5aaae9" stroke-width="1.7"/>
<polygon points="1387.2,319.6 1382.2,311.1 1392.2,311.1" fill="#5aaae9"/>
<path d="M1387.2 347.7 L1387.2 374.1" fill="none" stroke="#5aaae9" stroke-width="2"/>
<polygon points="1387.2,383.6 1381.95,373.1 1392.45,373.1" fill="#5aaae9"/>
<path d="M1509.3 291.4 L1471.1 291.4" fill="none" stroke="#5aaae9" stroke-width="2"/>
<polygon points="1461.6,291.4 1472.1,286.15 1472.1,296.65" fill="#5aaae9"/>
<text x="1479.5" y="282" font-family="Liberation Serif" font-style="italic" font-size="21" fill="#000">F<tspan font-size="14.5" dy="4.62" dx="-1.5">e</tspan></text>
<text x="1269.5" y="204.2" font-family="Liberation Serif" font-style="italic" font-size="22" fill="#000" stroke="#000" stroke-width="0.25">f<tspan font-size="15" dy="4.4" dx="0.88">t</tspan><tspan font-size="15" dy="-13.2" dx="0.3">T</tspan></text>
<text x="1395.5" y="384.4" font-family="Liberation Serif" font-style="italic" font-size="21" fill="#000">F<tspan font-size="15.5" dy="4.62" dx="-1.5" textLength="43" lengthAdjust="spacingAndGlyphs">fused</tspan></text>
<path d="M165 478.85 L189.5 478.85" fill="none" stroke="#5aaae9" stroke-width="1.7"/>
<polygon points="198.5,478.85 188.5,484.1 188.5,473.6" fill="#5aaae9"/>
<path d="M276.1 478.85 L300.5 478.85" fill="none" stroke="#5aaae9" stroke-width="1.7"/>
<polygon points="309.5,478.85 299.5,484.1 299.5,473.6" fill="#5aaae9"/>
<path d="M387.1 478.85 L411.5 478.85" fill="none" stroke="#5aaae9" stroke-width="1.7"/>
<polygon points="420.5,478.85 410.5,484.1 410.5,473.6" fill="#5aaae9"/>
<path d="M165 552.85 L189.5 552.85" fill="none" stroke="#5aaae9" stroke-width="1.7"/>
<polygon points="198.5,552.85 188.5,558.1 188.5,547.6" fill="#5aaae9"/>
<path d="M276.1 552.85 L300.5 552.85" fill="none" stroke="#5aaae9" stroke-width="1.7"/>
<polygon points="309.5,552.85 299.5,558.1 299.5,547.6" fill="#5aaae9"/>
<path d="M387.1 552.85 L411.5 552.85" fill="none" stroke="#5aaae9" stroke-width="1.7"/>
<polygon points="420.5,552.85 410.5,558.1 410.5,547.6" fill="#5aaae9"/>
<path d="M165 627.15 L189.5 627.15" fill="none" stroke="#5aaae9" stroke-width="1.7"/>
<polygon points="198.5,627.15 188.5,632.4 188.5,621.9" fill="#5aaae9"/>
<path d="M276.1 627.15 L300.5 627.15" fill="none" stroke="#5aaae9" stroke-width="1.7"/>
<polygon points="309.5,627.15 299.5,632.4 299.5,621.9" fill="#5aaae9"/>
<path d="M387.1 627.15 L411.5 627.15" fill="none" stroke="#5aaae9" stroke-width="1.7"/>
<polygon points="420.5,627.15 410.5,632.4 410.5,621.9" fill="#5aaae9"/>
<path d="M165 701.25 L189.5 701.25" fill="none" stroke="#5aaae9" stroke-width="1.7"/>
<polygon points="198.5,701.25 188.5,706.5 188.5,696" fill="#5aaae9"/>
<path d="M276.1 701.25 L300.5 701.25" fill="none" stroke="#5aaae9" stroke-width="1.7"/>
<polygon points="309.5,701.25 299.5,706.5 299.5,696" fill="#5aaae9"/>
<path d="M387.1 701.25 L411.5 701.25" fill="none" stroke="#5aaae9" stroke-width="1.7"/>
<polygon points="420.5,701.25 410.5,706.5 410.5,696" fill="#5aaae9"/>
<path d="M165 776.45 L189.5 776.45" fill="none" stroke="#5aaae9" stroke-width="1.7"/>
<polygon points="198.5,776.45 188.5,781.7 188.5,771.2" fill="#5aaae9"/>
<path d="M276.1 776.45 L300.5 776.45" fill="none" stroke="#5aaae9" stroke-width="1.7"/>
<polygon points="309.5,776.45 299.5,781.7 299.5,771.2" fill="#5aaae9"/>
<path d="M387.1 776.45 L411.5 776.45" fill="none" stroke="#5aaae9" stroke-width="1.7"/>
<polygon points="420.5,776.45 410.5,781.7 410.5,771.2" fill="#5aaae9"/>
<path d="M126.25 501.7 L126.25 522.3" fill="none" stroke="#5aaae9" stroke-width="1.7"/>
<polygon points="126.25,531.3 121,521.3 131.5,521.3" fill="#5aaae9"/>
<path d="M237.35 501.7 L237.35 522.3" fill="none" stroke="#5aaae9" stroke-width="1.7"/>
<polygon points="237.35,531.3 232.1,521.3 242.6,521.3" fill="#5aaae9"/>
<path d="M348.35 501.7 L348.35 522.3" fill="none" stroke="#5aaae9" stroke-width="1.7"/>
<polygon points="348.35,531.3 343.1,521.3 353.6,521.3" fill="#5aaae9"/>
<path d="M459.35 501.7 L459.35 522.3" fill="none" stroke="#5aaae9" stroke-width="1.7"/>
<polygon points="459.35,531.3 454.1,521.3 464.6,521.3" fill="#5aaae9"/>
<path d="M126.25 575.7 L126.25 596.6" fill="none" stroke="#5aaae9" stroke-width="1.7"/>
<polygon points="126.25,605.6 121,595.6 131.5,595.6" fill="#5aaae9"/>
<path d="M237.35 575.7 L237.35 596.6" fill="none" stroke="#5aaae9" stroke-width="1.7"/>
<polygon points="237.35,605.6 232.1,595.6 242.6,595.6" fill="#5aaae9"/>
<path d="M348.35 575.7 L348.35 596.6" fill="none" stroke="#5aaae9" stroke-width="1.7"/>
<polygon points="348.35,605.6 343.1,595.6 353.6,595.6" fill="#5aaae9"/>
<path d="M459.35 575.7 L459.35 596.6" fill="none" stroke="#5aaae9" stroke-width="1.7"/>
<polygon points="459.35,605.6 454.1,595.6 464.6,595.6" fill="#5aaae9"/>
<path d="M126.25 650 L126.25 670.7" fill="none" stroke="#5aaae9" stroke-width="1.7"/>
<polygon points="126.25,679.7 121,669.7 131.5,669.7" fill="#5aaae9"/>
<path d="M237.35 650 L237.35 670.7" fill="none" stroke="#5aaae9" stroke-width="1.7"/>
<polygon points="237.35,679.7 232.1,669.7 242.6,669.7" fill="#5aaae9"/>
<path d="M348.35 650 L348.35 670.7" fill="none" stroke="#5aaae9" stroke-width="1.7"/>
<polygon points="348.35,679.7 343.1,669.7 353.6,669.7" fill="#5aaae9"/>
<path d="M459.35 650 L459.35 670.7" fill="none" stroke="#5aaae9" stroke-width="1.7"/>
<polygon points="459.35,679.7 454.1,669.7 464.6,669.7" fill="#5aaae9"/>
<path d="M126.25 724.1 L126.25 745.9" fill="none" stroke="#5aaae9" stroke-width="1.7"/>
<polygon points="126.25,754.9 121,744.9 131.5,744.9" fill="#5aaae9"/>
<path d="M237.35 724.1 L237.35 745.9" fill="none" stroke="#5aaae9" stroke-width="1.7"/>
<polygon points="237.35,754.9 232.1,744.9 242.6,744.9" fill="#5aaae9"/>
<path d="M348.35 724.1 L348.35 745.9" fill="none" stroke="#5aaae9" stroke-width="1.7"/>
<polygon points="348.35,754.9 343.1,744.9 353.6,744.9" fill="#5aaae9"/>
<path d="M459.35 724.1 L459.35 745.9" fill="none" stroke="#5aaae9" stroke-width="1.7"/>
<polygon points="459.35,754.9 454.1,744.9 464.6,744.9" fill="#5aaae9"/>
<use href="#roadA" x="87.1" y="457" width="77.9" height="44.7" />
<rect x="87.1" y="457" width="77.9" height="44.7" filter="url(#cnoise)" opacity="0.8"/>
<rect x="154.87" y="459" width="10.13" height="40.7" filter="url(#streak)" opacity="0.44"/>
<use href="#roadB" x="198.2" y="457" width="77.9" height="44.7" />
<rect x="198.2" y="457" width="77.9" height="44.7" filter="url(#cnoise2)" opacity="0.8"/>
<rect x="265.97" y="459" width="10.13" height="40.7" filter="url(#streak)" opacity="0.44"/>
<use href="#roadB" x="309.2" y="457" width="77.9" height="44.7" />
<rect x="309.2" y="457" width="77.9" height="44.7" filter="url(#cnoise)" opacity="0.8"/>
<rect x="376.97" y="459" width="10.13" height="40.7" filter="url(#streak)" opacity="0.44"/>
<use href="#roadC" x="420.2" y="457" width="77.9" height="44.7" />
<rect x="420.2" y="457" width="77.9" height="44.7" filter="url(#cnoise2)" opacity="0.8"/>
<rect x="487.97" y="459" width="10.13" height="40.7" filter="url(#streak)" opacity="0.44"/>
<use href="#roadA" x="87.1" y="531" width="77.9" height="44.7" />
<rect x="87.1" y="531" width="77.9" height="44.7" filter="url(#cnoise2)" opacity="0.68"/>
<rect x="154.87" y="533" width="10.13" height="40.7" filter="url(#streak)" opacity="0.37"/>
<use href="#roadB" x="198.2" y="531" width="77.9" height="44.7" />
<rect x="198.2" y="531" width="77.9" height="44.7" filter="url(#cnoise)" opacity="0.68"/>
<rect x="265.97" y="533" width="10.13" height="40.7" filter="url(#streak)" opacity="0.37"/>
<use href="#roadB" x="309.2" y="531" width="77.9" height="44.7" />
<rect x="309.2" y="531" width="77.9" height="44.7" filter="url(#cnoise2)" opacity="0.68"/>
<rect x="376.97" y="533" width="10.13" height="40.7" filter="url(#streak)" opacity="0.37"/>
<use href="#roadC" x="420.2" y="531" width="77.9" height="44.7" />
<rect x="420.2" y="531" width="77.9" height="44.7" filter="url(#cnoise)" opacity="0.68"/>
<rect x="487.97" y="533" width="10.13" height="40.7" filter="url(#streak)" opacity="0.37"/>
<use href="#roadA" x="87.1" y="605.3" width="77.9" height="44.7" />
<rect x="87.1" y="605.3" width="77.9" height="44.7" filter="url(#cnoise)" opacity="0.3"/>
<rect x="154.87" y="607.3" width="10.13" height="40.7" filter="url(#streak)" opacity="0.17"/>
<use href="#roadB" x="198.2" y="605.3" width="77.9" height="44.7" />
<rect x="198.2" y="605.3" width="77.9" height="44.7" filter="url(#cnoise)" opacity="0.3"/>
<rect x="265.97" y="607.3" width="10.13" height="40.7" filter="url(#streak)" opacity="0.17"/>
<use href="#roadB" x="309.2" y="605.3" width="77.9" height="44.7" />
<rect x="309.2" y="605.3" width="77.9" height="44.7" filter="url(#cnoise)" opacity="0.3"/>
<rect x="376.97" y="607.3" width="10.13" height="40.7" filter="url(#streak)" opacity="0.17"/>
<use href="#roadC" x="420.2" y="605.3" width="77.9" height="44.7" />
<rect x="420.2" y="605.3" width="77.9" height="44.7" filter="url(#cnoise)" opacity="0.3"/>
<rect x="487.97" y="607.3" width="10.13" height="40.7" filter="url(#streak)" opacity="0.17"/>
<use href="#roadA" x="87.1" y="679.4" width="77.9" height="44.7" />
<use href="#roadB" x="198.2" y="679.4" width="77.9" height="44.7" />
<use href="#roadB" x="309.2" y="679.4" width="77.9" height="44.7" />
<use href="#roadC" x="420.2" y="679.4" width="77.9" height="44.7" />
<use href="#roadA" x="87.1" y="754.6" width="77.9" height="44.7" />
<use href="#roadB" x="198.2" y="754.6" width="77.9" height="44.7" />
<use href="#roadB" x="309.2" y="754.6" width="77.9" height="44.7" />
<use href="#roadC" x="420.2" y="754.6" width="77.9" height="44.7" />
<rect x="295" y="446.4" width="101.6" height="140.4" fill="none" stroke="#a6c2e5" stroke-width="5.2" stroke-dasharray="22 16" stroke-dashoffset="-12"/>
<rect x="66.4" y="493.6" width="8.4" height="313" fill="url(#gden)"/>
<polygon points="62.2,805.6 79.4,805.6 70.8,815.8" fill="#3f6eb6" />
<text transform="translate(44.8,586.8) rotate(90)" font-family="Liberation Serif" font-size="23" fill="#000" textLength="158.5" lengthAdjust="spacingAndGlyphs">Denoising step (t)</text>
<rect x="110" y="824.3" width="360" height="6.5" fill="url(#gts)"/>
<polygon points="470.4,821 478.3,827.6 470.4,834.2" fill="#3f6eb6" />
<text x="200" y="850.8" font-family="Liberation Serif" font-size="22.8" font-weight="normal" fill="#000" text-anchor="start" textLength="137.8" lengthAdjust="spacingAndGlyphs"  >Timestamp (T)</text>
<text x="66.8" y="899.7" font-family="Liberation Serif" font-size="23.5" font-weight="bold" fill="#9c9c9c" text-anchor="start" textLength="363" lengthAdjust="spacingAndGlyphs"  >(I) Timestamp and denoising steps</text>
<text x="65.5" y="898.4" font-family="Liberation Serif" font-size="23.5" font-weight="bold" fill="#000" text-anchor="start" textLength="363" lengthAdjust="spacingAndGlyphs"  >(I) Timestamp and denoising steps</text>
<path d="M555 599.2 L1513.5 599.2" stroke="#95a6da" stroke-width="4.4" stroke-dasharray="16.4 12.6" fill="none"/>
<path d="M1085 435.2 L1085 597" stroke="#95a6da" stroke-width="4.4" stroke-dasharray="14.8 14.2" fill="none"/>
<path d="M1109 604 L1109 930" stroke="#95a6da" stroke-width="4.4" stroke-dasharray="14.8 14.2" fill="none"/>
<text x="609.3" y="458.8" font-family="Liberation Serif" font-size="17" font-weight="normal" fill="#000" text-anchor="middle" textLength="39" lengthAdjust="spacingAndGlyphs"  >Other</text>
<text x="554.6" y="474.2" font-family="Liberation Serif" font-size="17" font-weight="normal" fill="#000" text-anchor="start" textLength="111.7" lengthAdjust="spacingAndGlyphs"  >Conditions (GT)</text>
<text x="581.1" y="519.8" font-family="Liberation Serif" font-size="17" font-weight="normal" fill="#000" text-anchor="start" textLength="58.3" lengthAdjust="spacingAndGlyphs"  >CF (GT)</text>
<text x="580.5" y="561.9" font-family="Liberation Serif" font-size="17" font-weight="normal" fill="#000" text-anchor="start" textLength="59.5" lengthAdjust="spacingAndGlyphs"  >NF (GT)</text>
<use href="#roadB" x="684.2" y="434.2" width="64.6" height="42.7" />
<use href="#blk" x="676.9" y="441.6" width="65" height="38.4" />
<use href="#hdmap" x="671" y="448.9" width="64.8" height="37.5" />
<use href="#roadB" x="677.3" y="489.5" width="64.6" height="43.2" />
<use href="#roadB" x="676.9" y="536.2" width="66" height="43.6" />
<rect x="676.9" y="536.2" width="66" height="43.6" filter="url(#cnoise)" opacity="0.62"/>
<path d="M767.7 465.8 L791.57 478.5" fill="none" stroke="#5aaae9" stroke-width="2"/>
<polygon points="800.4,483.2 788.22,482.67 793.16,473.4" fill="#5aaae9"/>
<path d="M767.7 513.3 L790.6 513.3" fill="none" stroke="#5aaae9" stroke-width="2"/>
<polygon points="800.6,513.3 789.6,518.55 789.6,508.05" fill="#5aaae9"/>
<path d="M767.7 558.3 L791.51 546.07" fill="none" stroke="#5aaae9" stroke-width="2"/>
<polygon points="800.4,541.5 793.01,551.2 788.22,541.86" fill="#5aaae9"/>
<polygon points="818.9,475.6 865.9,502 865.9,518.4 818.9,544.7" fill="#bfd3ed" />
<polygon points="868.4,502 915.3,475.6 915.3,544.7 868.4,518.4" fill="#bfd3ed" />
<path d="M931 508 L949.5 508" fill="none" stroke="#5aaae9" stroke-width="2"/>
<polygon points="959.5,508 948.5,513.25 948.5,502.75" fill="#5aaae9"/>
<text x="1013.5" y="455.9" font-family="Liberation Serif" font-size="17" font-weight="normal" fill="#000" text-anchor="middle" textLength="41" lengthAdjust="spacingAndGlyphs"  >Image</text>
<text x="1013.4" y="471.6" font-family="Liberation Serif" font-size="17" font-weight="normal" fill="#000" text-anchor="middle" textLength="70" lengthAdjust="spacingAndGlyphs"  >Prediction</text>
<use href="#pred" x="969.4" y="477.3" width="91.5" height="60.2" />
<text x="816.4" y="573.7" font-family="Liberation Serif" font-size="18.5" font-weight="bold" fill="#000" text-anchor="start" textLength="248" lengthAdjust="spacingAndGlyphs"  >Stage 1: Streaming Learning</text>
<use href="#roadB" x="1121" y="445" width="60.9" height="39.9" />
<use href="#blk" x="1115" y="452" width="59.9" height="34.9" />
<use href="#hdmap" x="1109" y="458.9" width="59.9" height="35" />
<use href="#roadB" x="1115" y="499.9" width="59.9" height="39.9" />
<use href="#roadB" x="1115" y="544.8" width="60" height="40" />
<rect x="1115" y="544.8" width="60" height="40" filter="url(#cnoise2)" opacity="0.62"/>
<path d="M1201.8 472.9 L1225.95 485.64" fill="none" stroke="#5aaae9" stroke-width="2"/>
<polygon points="1234.8,490.3 1222.62,489.81 1227.52,480.53" fill="#5aaae9"/>
<path d="M1201.8 520.3 L1225.4 520.3" fill="none" stroke="#5aaae9" stroke-width="2"/>
<polygon points="1235.4,520.3 1224.4,525.55 1224.4,515.05" fill="#5aaae9"/>
<path d="M1201.8 565.4 L1225.87 553.29" fill="none" stroke="#5aaae9" stroke-width="2"/>
<polygon points="1234.8,548.8 1227.33,558.43 1222.61,549.05" fill="#5aaae9"/>
<polygon points="1262.4,482.5 1309.7,509.3 1309.7,525.3 1262.4,552.4" fill="#bfd3ed" />
<polygon points="1312.1,509.3 1358.6,482.5 1358.6,552.4 1312.1,525.3" fill="#bfd3ed" />
<path d="M1277.7 492 L1277.7 476.6" fill="none" stroke="#5aaae9" stroke-width="2"/>
<polygon points="1277.7,466.6 1283.2,477.6 1272.2,477.6" fill="#5aaae9"/>
<path d="M1289.7 499 L1289.7 476.6" fill="none" stroke="#5aaae9" stroke-width="2"/>
<polygon points="1289.7,466.6 1295.2,477.6 1284.2,477.6" fill="#5aaae9"/>
<path d="M1332.7 466 L1332.7 487.5" fill="none" stroke="#5aaae9" stroke-width="2"/>
<polygon points="1332.7,497.5 1327.2,486.5 1338.2,486.5" fill="#5aaae9"/>
<path d="M1343.6 466 L1343.6 481" fill="none" stroke="#5aaae9" stroke-width="2"/>
<polygon points="1343.6,491 1338.1,480 1349.1,480" fill="#5aaae9"/>
<rect x="1224.2" y="437" width="173.1" height="29.3" rx="0" fill="url(#gbuf2)" />
<text x="1311" y="458" font-family="Liberation Serif" font-size="17" font-weight="normal" fill="#fff" text-anchor="middle" textLength="113.4" lengthAdjust="spacingAndGlyphs"   stroke="#fff" stroke-width="0.45">StreamingBuffer</text>
<path d="M1365.6 515.5 L1383.7 515.5" fill="none" stroke="#5aaae9" stroke-width="2"/>
<polygon points="1393.7,515.5 1382.7,520.75 1382.7,510.25" fill="#5aaae9"/>
<use href="#pred" x="1404.3" y="484.1" width="90.8" height="60.4" />
<text x="1297.7" y="576.1" font-family="Liberation Serif" font-size="18.5" font-weight="bold" fill="#000" text-anchor="start" textLength="209.6" lengthAdjust="spacingAndGlyphs"  >Stage 2: HTFT Learning</text>
<use href="#roadA" x="589.1" y="613.6" width="94.6" height="63.1" />
<path d="M637.1 680 L637.1 692.2" fill="none" stroke="#5aaae9" stroke-width="1.7"/>
<polygon points="637.1,700.2 632.35,691.2 641.85,691.2" fill="#5aaae9"/>
<rect x="563.3" y="698" width="48.3" height="31.8" filter="url(#gnoisef)"/>
<path d="M621.2 701.6 L635.5 707.82 L635.5 720.78 L621.2 727Z M652.8 701.6 L638.5 707.82 L638.5 720.78 L652.8 727Z" fill="#bcd0ee" stroke="#24346a" stroke-width="1.7" stroke-linejoin="miter"/>
<rect x="563.3" y="733" width="48.3" height="31.2" filter="url(#gnoisef)"/>
<path d="M621.2 735.8 L635.5 742.02 L635.5 754.98 L621.2 761.2Z M652.8 735.8 L638.5 742.02 L638.5 754.98 L652.8 761.2Z" fill="#bcd0ee" stroke="#24346a" stroke-width="1.7" stroke-linejoin="miter"/>
<rect x="563.3" y="767.6" width="48.3" height="32.1" filter="url(#gnoisef)"/>
<path d="M621.2 770.7 L635.5 776.89 L635.5 789.81 L621.2 796Z M652.8 770.7 L638.5 776.89 L638.5 789.81 L652.8 796Z" fill="#bcd0ee" stroke="#24346a" stroke-width="1.7" stroke-linejoin="miter"/>
<rect x="563.3" y="823" width="48.3" height="31.8" filter="url(#gnoisef)"/>
<path d="M621.2 826 L635.5 832.22 L635.5 845.18 L621.2 851.4Z M652.8 826 L638.5 832.22 L638.5 845.18 L652.8 851.4Z" fill="#bcd0ee" stroke="#24346a" stroke-width="1.7" stroke-linejoin="miter"/>
<use href="#roadB" x="663" y="733" width="48.6" height="31.2" />
<use href="#roadC" x="663" y="767.6" width="48.6" height="32.1" />
<use href="#grayst" x="663" y="823" width="48.6" height="31.8" />
<rect x="637.8" y="806.5" width="1.3" height="1.3" fill="#222"/>
<rect x="637.8" y="810.5" width="1.3" height="1.3" fill="#222"/>
<rect x="637.8" y="814.5" width="1.3" height="1.3" fill="#222"/>
<path d="M665.8 714.5 L712.8 714.5" fill="none" stroke="#5aaae9" stroke-width="1.7"/>
<polygon points="721.8,714.5 711.8,719.5 711.8,709.5" fill="#5aaae9"/>
<text x="670.7" y="690.3" font-family="Liberation Serif" font-size="17" font-weight="normal" fill="#000" text-anchor="start" textLength="182" lengthAdjust="spacingAndGlyphs"  >Predicted Condition Frame</text>
<use href="#roadB" x="725.2" y="694.6" width="72.7" height="48" />
<use href="#roadB" x="725.2" y="785.2" width="72.7" height="48.6" />
<rect x="725.2" y="785.2" width="72.7" height="48.6" filter="url(#cnoise)" opacity="0.62"/>
<path d="M814.2 714.4 L837.4 714.4" fill="none" stroke="#5aaae9" stroke-width="2"/>
<polygon points="847.4,714.4 836.4,719.65 836.4,709.15" fill="#5aaae9"/>
<path d="M814.2 778.8 L837.87 766.89" fill="none" stroke="#5aaae9" stroke-width="2"/>
<polygon points="846.8,762.4 839.33,772.03 834.61,762.65" fill="#5aaae9"/>
<polygon points="857.3,687.2 915.8,720.6 915.8,740.5 857.3,773.7" fill="#bfd3ed" />
<polygon points="918.7,720.6 978,687.2 978,773.7 918.7,740.5" fill="#bfd3ed" />
<path d="M882.6 702 L882.6 667.6" fill="none" stroke="#5aaae9" stroke-width="2"/>
<polygon points="882.6,657.6 888.1,668.6 877.1,668.6" fill="#5aaae9"/>
<path d="M893.7 708.5 L893.7 667.6" fill="none" stroke="#5aaae9" stroke-width="2"/>
<polygon points="893.7,657.6 899.2,668.6 888.2,668.6" fill="#5aaae9"/>
<path d="M939.7 657 L939.7 695.6" fill="none" stroke="#5aaae9" stroke-width="2"/>
<polygon points="939.7,705.6 934.2,694.6 945.2,694.6" fill="#5aaae9"/>
<path d="M952.4 657 L952.4 687.2" fill="none" stroke="#5aaae9" stroke-width="2"/>
<polygon points="952.4,697.2 946.9,686.2 957.9,686.2" fill="#5aaae9"/>
<rect x="840.3" y="627.8" width="154.2" height="29.5" rx="0" fill="url(#gbuf2)" />
<text x="917.3" y="648.8" font-family="Liberation Serif" font-size="17" font-weight="normal" fill="#fff" text-anchor="middle" textLength="113.5" lengthAdjust="spacingAndGlyphs"   stroke="#fff" stroke-width="0.45">StreamingBuffer</text>
<path d="M889.1 781.7 L889.1 769.9" fill="none" stroke="#5aaae9" stroke-width="2"/>
<polygon points="889.1,760.4 894.6,770.9 883.6,770.9" fill="#5aaae9"/>
<path d="M978 731.7 L992.6 731.7" fill="none" stroke="#5aaae9" stroke-width="2"/>
<polygon points="1002.1,731.7 991.6,736.95 991.6,726.45" fill="#5aaae9"/>
<use href="#pred" x="1002.1" y="702.2" width="91.7" height="60.2" />
<use href="#roadB" x="857.3" y="787.9" width="73.6" height="47.7" />
<use href="#blk" x="850.2" y="795.9" width="72.7" height="42.6" />
<use href="#hdmap" x="843.2" y="804.4" width="72.6" height="42" />
<text x="577.6" y="909.3" font-family="Liberation Serif" font-size="25" font-weight="bold" fill="#9c9c9c" text-anchor="start" textLength="241" lengthAdjust="spacingAndGlyphs"  >(III)Training Strategy</text>
<text x="576.3" y="908" font-family="Liberation Serif" font-size="25" font-weight="bold" fill="#000" text-anchor="start" textLength="241" lengthAdjust="spacingAndGlyphs"  >(III)Training Strategy</text>
<text x="853.8" y="889.9" font-family="Liberation Serif" font-size="19" font-weight="bold" fill="#000" text-anchor="start" textLength="229.2" lengthAdjust="spacingAndGlyphs"  >Stage 3: Learning Through</text>
<text x="880" y="910.7" font-family="Liberation Serif" font-size="19" font-weight="bold" fill="#000" text-anchor="start" textLength="176.9" lengthAdjust="spacingAndGlyphs"  >Simulating Inference</text>
<rect x="1233.4" y="614.6" width="113" height="53.4" rx="10" fill="none" stroke="#4a74b8" stroke-width="2.6" stroke-dasharray="10 7.2"/>
<path d="M1447.5 846.3 Q1437.5 846.3 1437.5 836.3 L1437.5 625 Q1437.5 615 1447.5 615 L1487.3 615 Q1497.3 615 1497.3 625 L1497.3 836.3 Q1497.3 846.3 1487.3 846.3 Z" fill="none" stroke="#4a74b8" stroke-width="2.6" stroke-dasharray="10 7.2"/>
<path d="M1326.6 676 L1383.1 676 L1383.1 883.2 L1447 883.2 L1447 922.3 L1326.6 922.3 Z" fill="none" stroke="#d4a9d0" stroke-width="2.6" stroke-dasharray="10.5 7.5"/>
<text x="1266" y="631.6" font-family="Liberation Serif" font-size="16" font-weight="bold" fill="#4a74b8" text-anchor="middle" textLength="20.4" lengthAdjust="spacingAndGlyphs"  >GT</text>
<text x="1467.6" y="781.8" font-family="Liberation Serif" font-size="16" font-weight="bold" fill="#4a74b8" text-anchor="middle" textLength="34.6" lengthAdjust="spacingAndGlyphs"  >Noise</text>
<path d="M1338 632 L1414.3 632 L1414.3 641" fill="none" stroke="#5aaae9" stroke-width="2"/>
<polygon points="1414.3,650 1408.8,640 1419.8,640" fill="#5aaae9"/>
<path d="M1292.3 655.2 L1385.9 655.2" fill="none" stroke="#5aaae9" stroke-width="2"/>
<polygon points="1394.9,655.2 1384.9,660.7 1384.9,649.7" fill="#5aaae9"/>
<path d="M1468.5 649.4 L1468.5 666.3 L1434.5 666.3" fill="none" stroke="#5aaae9" stroke-width="2"/>
<polygon points="1425.5,666.3 1435.5,660.8 1435.5,671.8" fill="#5aaae9"/>
<path d="M1414.3 682 L1414.3 719.6" fill="none" stroke="#5aaae9" stroke-width="2"/>
<polygon points="1414.3,728.6 1408.8,718.6 1419.8,718.6" fill="#5aaae9"/>
<path d="M1414.3 692.3 L1386 692.3" fill="none" stroke="#5aaae9" stroke-width="2"/>
<polygon points="1377,692.3 1387,686.8 1387,697.8" fill="#5aaae9"/>
<path d="M1333.4 692.3 L1311.8 692.3" fill="none" stroke="#5aaae9" stroke-width="2"/>
<polygon points="1302.8,692.3 1312.8,686.8 1312.8,697.8" fill="#5aaae9"/>
<path d="M1292.3 737.3 L1385.9 737.3" fill="none" stroke="#5aaae9" stroke-width="2"/>
<polygon points="1394.9,737.3 1384.9,742.8 1384.9,731.8" fill="#5aaae9"/>
<path d="M1468.5 728.5 L1468.5 745.9 L1434.5 745.9" fill="none" stroke="#5aaae9" stroke-width="2"/>
<polygon points="1425.5,745.9 1435.5,740.4 1435.5,751.4" fill="#5aaae9"/>
<path d="M1414.3 760.5 L1414.3 775.5 L1386 775.5" fill="none" stroke="#5aaae9" stroke-width="2"/>
<polygon points="1377,775.5 1387,770 1387,781" fill="#5aaae9"/>
<path d="M1333.4 775.5 L1311.8 775.5" fill="none" stroke="#5aaae9" stroke-width="2"/>
<polygon points="1302.8,775.5 1312.8,770 1312.8,781" fill="#5aaae9"/>
<path d="M1333.4 824 L1311.8 824" fill="none" stroke="#5aaae9" stroke-width="2"/>
<polygon points="1302.8,824 1312.8,818.5 1312.8,829.5" fill="#5aaae9"/>
<path d="M1376.5 824 L1414.3 824 L1414.3 829" fill="none" stroke="#5aaae9" stroke-width="2"/>
<polygon points="1414.3,838 1408.8,828 1419.8,828" fill="#5aaae9"/>
<path d="M1315 856.9 L1384.9 856.9" fill="none" stroke="#5aaae9" stroke-width="2"/>
<polygon points="1393.9,856.9 1383.9,862.4 1383.9,851.4" fill="#5aaae9"/>
<path d="M1468.5 837.5 L1468.5 854.9 L1434.5 854.9" fill="none" stroke="#5aaae9" stroke-width="2"/>
<polygon points="1425.5,854.9 1435.5,849.4 1435.5,860.4" fill="#5aaae9"/>
<path d="M1414.3 870 L1414.3 877" fill="none" stroke="#5aaae9" stroke-width="2"/>
<polygon points="1414.3,886 1408.8,876 1419.8,876" fill="#5aaae9"/>
<path d="M1264.3 668 L1264.3 675.1" fill="none" stroke="#5aaae9" stroke-width="2"/>
<polygon points="1264.3,683.6 1258.8,674.1 1269.8,674.1" fill="#5aaae9"/>
<path d="M1264.3 700.3 L1264.3 709.5" fill="none" stroke="#5aaae9" stroke-width="2"/>
<polygon points="1264.3,718 1258.8,708.5 1269.8,708.5" fill="#5aaae9"/>
<path d="M1264.3 748 L1264.3 756.5" fill="none" stroke="#5aaae9" stroke-width="2"/>
<polygon points="1264.3,765 1258.8,755.5 1269.8,755.5" fill="#5aaae9"/>
<path d="M1264.3 832 L1264.3 841.1" fill="none" stroke="#5aaae9" stroke-width="2"/>
<polygon points="1264.3,849.6 1258.8,840.1 1269.8,840.1" fill="#5aaae9"/>
<path d="M1401 650.6 L1427.6 650.6 L1420.8 664.3 L1407.8 664.3Z M1407.8 668 L1420.8 668 L1427.6 681.9 L1401 681.9Z" fill="#bcd0ee" stroke="#24346a" stroke-width="1.8"/>
<path d="M1401 729 L1427.6 729 L1420.8 742.9 L1407.8 742.9Z M1407.8 746.5 L1420.8 746.5 L1427.6 760.5 L1401 760.5Z" fill="#bcd0ee" stroke="#24346a" stroke-width="1.8"/>
<path d="M1401 838.4 L1427.6 838.4 L1420.8 852.3 L1407.8 852.3Z M1407.8 855.9 L1420.8 855.9 L1427.6 869.9 L1401 869.9Z" fill="#bcd0ee" stroke="#24346a" stroke-width="1.8"/>
<use href="#roadA" x="1295.3" y="618" width="42.5" height="28.6" />
<use href="#cmapB" x="1249.3" y="638.4" width="37.4" height="21.2" />
<use href="#cmapA" x="1242.9" y="645" width="37" height="21" />
<use href="#cmapB" x="1249.3" y="719.9" width="37.4" height="21.6" />
<use href="#cmapA" x="1242.9" y="726.5" width="37" height="21.4" />
<use href="#cmapB" x="1249.3" y="851.9" width="37.4" height="21.6" />
<use href="#cmapC" x="1242.9" y="858.5" width="37" height="21.4" />
<rect x="1226.9" y="684.3" width="75.3" height="16" rx="3.5" fill="#5b8bc9" />
<text x="1264.4" y="697.5" font-family="Liberation Serif" font-size="15.5" font-weight="normal" fill="#fff" text-anchor="middle" textLength="35" lengthAdjust="spacingAndGlyphs"   stroke="#fff" stroke-width="0.45">MILE</text>
<rect x="1226.9" y="767.4" width="75.3" height="16.2" rx="3.5" fill="#5b8bc9" />
<text x="1264.4" y="780.8" font-family="Liberation Serif" font-size="15.5" font-weight="normal" fill="#fff" text-anchor="middle" textLength="35" lengthAdjust="spacingAndGlyphs"   stroke="#fff" stroke-width="0.45">MILE</text>
<rect x="1226.9" y="816" width="75.3" height="16" rx="3.5" fill="#5b8bc9" />
<text x="1264.4" y="829.2" font-family="Liberation Serif" font-size="15.5" font-weight="normal" fill="#fff" text-anchor="middle" textLength="35" lengthAdjust="spacingAndGlyphs"   stroke="#fff" stroke-width="0.45">MILE</text>
<use href="#roadB" x="1333.4" y="678.3" width="43.1" height="28.2" />
<use href="#roadB" x="1333.4" y="761.2" width="43.1" height="28.4" />
<use href="#grayst" x="1333.4" y="809.6" width="43.1" height="27.9" />
<use href="#grayst" x="1393.1" y="887.3" width="42.8" height="28.2" />
<rect x="1446.9" y="621" width="42.9" height="28.4" filter="url(#gnoisef)"/>
<rect x="1446.9" y="699.9" width="42.9" height="28.6" filter="url(#gnoisef)"/>
<rect x="1446.9" y="809.4" width="42.9" height="28.1" filter="url(#gnoisef)"/>
<rect x="1263.8" y="795.2" width="1.3" height="1.3" fill="#222"/>
<rect x="1263.8" y="798.7" width="1.3" height="1.3" fill="#222"/>
<rect x="1263.8" y="802.2" width="1.3" height="1.3" fill="#222"/>
<rect x="1263.8" y="805.6" width="1.3" height="1.3" fill="#222"/>
<rect x="1357.2" y="795.2" width="1.3" height="1.3" fill="#222"/>
<rect x="1357.2" y="798.7" width="1.3" height="1.3" fill="#222"/>
<rect x="1357.2" y="802.2" width="1.3" height="1.3" fill="#222"/>
<rect x="1357.2" y="805.6" width="1.3" height="1.3" fill="#222"/>
<rect x="1408.9" y="795.2" width="1.3" height="1.3" fill="#222"/>
<rect x="1408.9" y="798.7" width="1.3" height="1.3" fill="#222"/>
<rect x="1408.9" y="802.2" width="1.3" height="1.3" fill="#222"/>
<rect x="1408.9" y="805.6" width="1.3" height="1.3" fill="#222"/>
<text x="1172" y="774.6" font-family="Liberation Serif" font-size="15.5" font-weight="bold" fill="#8fc9d4" text-anchor="middle" textLength="96.7" lengthAdjust="spacingAndGlyphs"  >BBox&amp;HDmap</text>
<text x="1172" y="792.4" font-family="Liberation Serif" font-size="15.5" font-weight="bold" fill="#8fc9d4" text-anchor="middle" textLength="65" lengthAdjust="spacingAndGlyphs"  >Prediction</text>
<path d="M1172 755.5 L1215.55 739.04" fill="none" stroke="#a6d6de" stroke-width="2.6" stroke-dasharray="11 7"/>
<polygon points="1224.9,735.5 1216.56,744.53 1212.67,734.25" fill="#a6d6de"/>
<path d="M1172 805.6 L1217.38 858.32" fill="none" stroke="#a6d6de" stroke-width="2.6" stroke-dasharray="11 7"/>
<polygon points="1223.9,865.9 1212.56,861.15 1220.89,853.97" fill="#a6d6de"/>
<text x="1360.5" y="895.9" font-family="Liberation Serif" font-size="15.5" font-weight="bold" fill="#c99ac8" text-anchor="middle" textLength="39" lengthAdjust="spacingAndGlyphs"  >Image</text>
<text x="1360.7" y="909.6" font-family="Liberation Serif" font-size="15.5" font-weight="bold" fill="#c99ac8" text-anchor="middle" textLength="64.4" lengthAdjust="spacingAndGlyphs"  >Prediction</text>
<text x="1153.6" y="914.9" font-family="Liberation Serif" font-size="20" font-weight="bold" fill="#000" text-anchor="start" textLength="162.2" lengthAdjust="spacingAndGlyphs"  >Infinite Generation</text>
</svg>
</body></html>
